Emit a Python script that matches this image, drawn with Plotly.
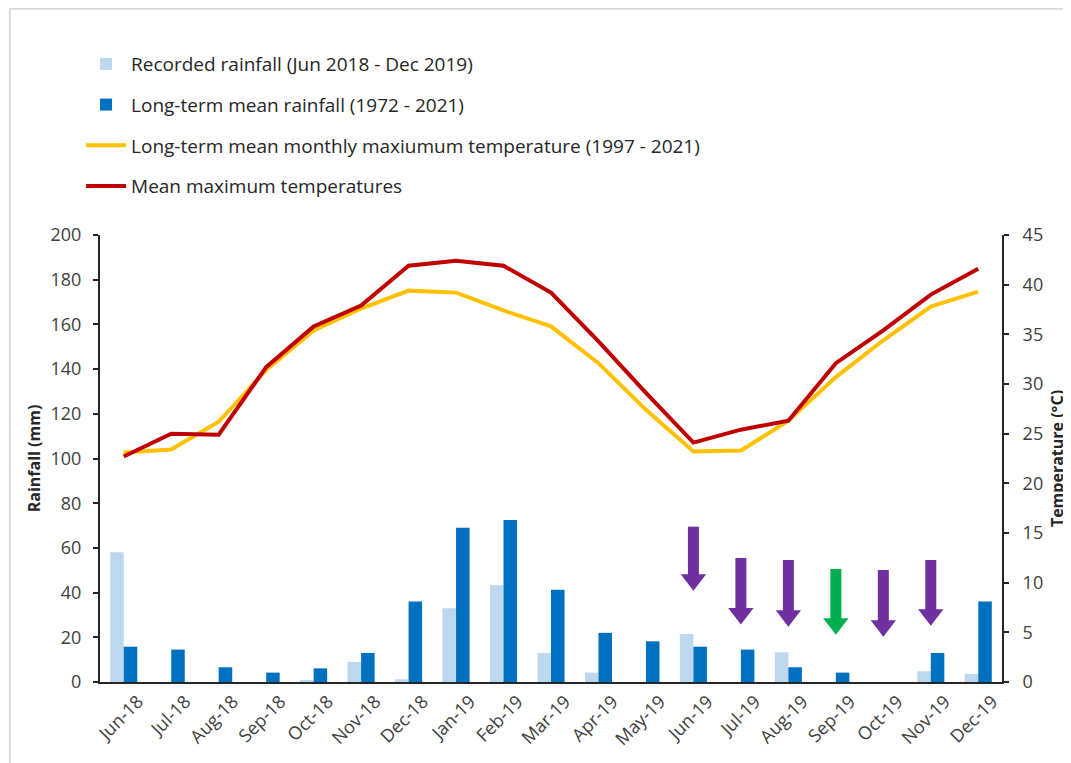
import plotly.graph_objects as go

months = ["Jun-18", "Jul-18", "Aug-18", "Sep-18", "Oct-18", "Nov-18", "Dec-18",
          "Jan-19", "Feb-19", "Mar-19", "Apr-19", "May-19", "Jun-19", "Jul-19",
          "Aug-19", "Sep-19", "Oct-19", "Nov-19", "Dec-19"]

recorded_rain = [58, 0, 0, 0, 0.5, 9, 1.2, 33, 43.3, 13, 4.2, 0, 21.5, 0, 13.3, 0, 0, 4.8, 3.6]
longterm_rain = [15.8, 14.5, 6.6, 4.2, 6.1, 13, 36, 69, 72.5, 41.3, 22, 18.2, 15.8, 14.5, 6.6, 4.2, 0, 13, 36]

longterm_tmax = [23.1, 23.4, 26.2, 31.4, 35.4, 37.6, 39.4, 39.2, 37.4, 35.8, 32.1, 27.4,
                 23.2, 23.3, 26.3, 30.7, 34.4, 37.8, 39.3]
mean_tmax = [22.7, 25.0, 24.9, 31.7, 35.8, 37.9, 41.9, 42.4, 41.9, 39.2, 34.3, 29.1,
             24.1, 25.4, 26.3, 32.1, 35.4, 39.0, 41.6]

arrow_months = ["Jun-19", "Jul-19", "Aug-19", "Sep-19", "Oct-19", "Nov-19"]
arrow_top = [69.5, 55.5, 54.6, 50.6, 50.1, 54.6]
arrow_tip = [41.2, 26.0, 25.0, 21.5, 20.6, 25.5]
arrow_colors = ["#7030A0", "#7030A0", "#7030A0", "#00B050", "#7030A0", "#7030A0"]

rain_ticks = [0, 20, 40, 60, 80, 100, 120, 140, 160, 180, 200]
temp_ticks = [0, 5, 10, 15, 20, 25, 30, 35, 40, 45]

FONT = "Open Sans"
TXT = "#404040"
HEAD_OFFSET = 4.6
LABEL_SHIFT = 0.3  # Excel-like placement of the rotated month labels

xi = list(range(len(months)))
pos = {m: i for i, m in enumerate(months)}

fig = go.Figure()
fig.add_trace(go.Bar(x=xi, y=recorded_rain, name="Recorded rainfall (Jun 2018 - Dec 2019)",
                     marker=dict(color="#BDD7EE", line=dict(width=0)), legendgroup="a"))
fig.add_trace(go.Bar(x=xi, y=longterm_rain, name="Long-term mean rainfall (1972 - 2021)",
                     marker=dict(color="#0070C0", line=dict(width=0)), legendgroup="b"))
fig.add_trace(go.Scatter(x=xi, y=longterm_tmax, yaxis="y2", mode="lines",
                         name="Long-term mean monthly maxiumum temperature (1997 - 2021)",
                         line=dict(color="#FFC000", width=4), legendgroup="c"))
fig.add_trace(go.Scatter(x=xi, y=mean_tmax, yaxis="y2", mode="lines",
                         name="Mean maximum temperatures",
                         line=dict(color="#C00000", width=4), legendgroup="d"))

for m, top, tip, col in zip(arrow_months, arrow_top, arrow_tip, arrow_colors):
    x = pos[m]
    fig.add_trace(go.Scatter(x=[x, x], y=[top, tip + HEAD_OFFSET], mode="lines",
                             line=dict(color=col, width=11), showlegend=False, hoverinfo="skip"))
    fig.add_trace(go.Scatter(x=[x], y=[tip + HEAD_OFFSET], mode="markers",
                             marker=dict(symbol="triangle-down", size=22, color=col, line=dict(width=0)),
                             showlegend=False, hoverinfo="skip"))

fig.update_layout(
    width=1063, height=755,
    margin=dict(l=92, r=69, t=227, b=81, autoexpand=False),
    paper_bgcolor="white", plot_bgcolor="white",
    font=dict(family=FONT, size=16, color=TXT),
    barmode="group", bargap=0.43, bargroupgap=0,
    legend=dict(x=-0.021, y=1.425, xanchor="left", yanchor="top",
                traceorder="grouped", tracegroupgap=13,
                font=dict(family=FONT, size=19, color="#262626"),
                bgcolor="rgba(0,0,0,0)", itemwidth=40),
    xaxis=dict(showline=True, linecolor="#262626", linewidth=2, automargin=False,
               tickvals=[i + LABEL_SHIFT for i in xi], ticktext=months,
               ticks="", tickangle=-45, tickfont=dict(size=18, color=TXT), showgrid=False,
               zeroline=False, range=[-0.5, len(months) - 0.5]),
    yaxis=dict(range=[0, 200], tickvals=rain_ticks, showline=True, linecolor="#262626", linewidth=2,
               ticks="outside", ticklen=5, tickcolor="#262626", tickwidth=2, showgrid=False, zeroline=False,
               ticklabelstandoff=8, automargin=False,
               tickfont=dict(size=18, color=TXT),
               title=dict(text="<b>Rainfall (mm)</b>", font=dict(size=16, color="#262626"), standoff=6)),
    yaxis2=dict(range=[0, 45], tickvals=temp_ticks, overlaying="y", side="right",
                showline=True, linecolor="#262626", linewidth=2, automargin=False,
                ticks="outside", ticklen=5, tickcolor="#262626", tickwidth=2, showgrid=False, zeroline=False,
                ticklabelstandoff=10,
                tickfont=dict(size=18, color=TXT),
                title=dict(text="<b>Temperature (°C)</b>", font=dict(size=16, color="#262626"), standoff=10)),
    shapes=[
        dict(type="line", xref="paper", yref="paper", x0=-0.1, x1=1.1, y0=1.506, y1=1.506,
             line=dict(color="#D9D9D9", width=2)),
        dict(type="line", xref="paper", yref="paper", x0=-0.1, x1=-0.1, y0=1.506, y1=-0.2,
             line=dict(color="#D9D9D9", width=2)),
    ],
)

fig.write_html("out.html")
